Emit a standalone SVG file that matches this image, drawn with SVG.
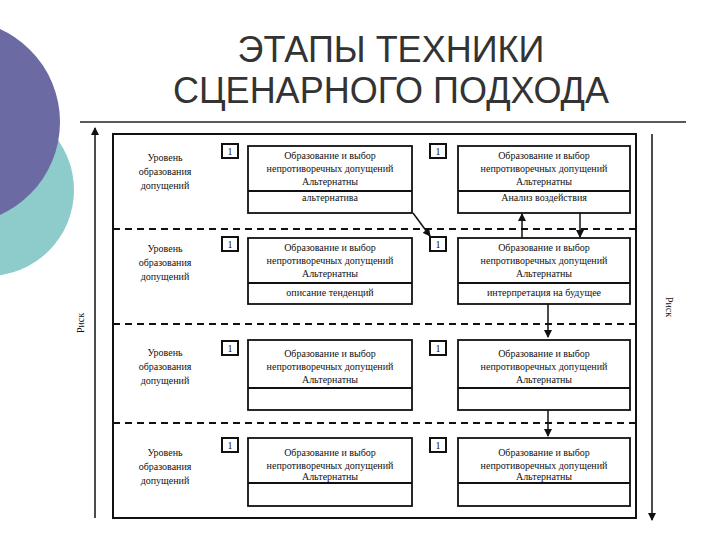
<svg xmlns="http://www.w3.org/2000/svg" width="720" height="540" viewBox="0 0 720 540">
<style>
.t{font-family:"Liberation Serif","DejaVu Serif","Times New Roman",serif;font-size:10px;text-anchor:middle;fill:#111}
.b{fill:#fff;stroke:#111;stroke-width:1.8}
.n{fill:#fff;stroke:#111;stroke-width:2}
.d{stroke:#111;stroke-width:1.8;stroke-dasharray:7,5}
.c{stroke:#111;stroke-width:1.5;fill:none}
.h{font-family:"Liberation Sans",sans-serif;font-size:36px;text-anchor:middle;fill:#333}
</style>
<defs><marker id="a" markerWidth="8" markerHeight="8" refX="7" refY="4" orient="auto" markerUnits="userSpaceOnUse"><path d="M0,0L8,4L0,8z" fill="#111"/></marker></defs>
<rect width="720" height="540" fill="#fff"/>
<circle cx="-12" cy="190" r="86" fill="#8ecbcb"/>
<circle cx="-42" cy="122" r="102" fill="#6b6aa2"/>
<text class="h" x="391" y="62">ЭТАПЫ ТЕХНИКИ</text>
<text class="h" x="391" y="103">СЦЕНАРНОГО ПОДХОДА</text>
<line x1="80" y1="122" x2="686" y2="122" stroke="#222" stroke-width="1.5"/>
<rect x="113" y="134" width="523" height="384" fill="none" stroke="#111" stroke-width="2"/>
<line class="d" x1="113" y1="229" x2="636" y2="229"/>
<line class="d" x1="113" y1="324" x2="636" y2="324"/>
<line class="d" x1="113" y1="423" x2="636" y2="423"/>
<g id="connectors">
<line class="c" x1="95" y1="518" x2="95" y2="128" marker-end="url(#a)"/>
<line class="c" x1="652" y1="134" x2="652" y2="520" marker-end="url(#a)"/>
<line class="c" x1="413" y1="213" x2="430" y2="236" marker-end="url(#a)"/>
<line class="c" x1="522" y1="238" x2="522" y2="214" marker-end="url(#a)"/>
<line class="c" x1="580" y1="213" x2="580" y2="237" marker-end="url(#a)"/>
<line class="c" x1="548" y1="304" x2="548" y2="337" marker-end="url(#a)"/>
<line class="c" x1="548" y1="410" x2="548" y2="436" marker-end="url(#a)"/>
</g>
<text class="t" transform="translate(84,323) rotate(-90)" x="0" y="0">Риск</text>
<text class="t" transform="translate(666,307) rotate(90)" x="0" y="0">Риск</text>
<g id="row1">
<text class="t" x="165" y="161">Уровень</text><text class="t" x="165" y="175">образования</text><text class="t" x="165" y="189">допущений</text>
<rect class="n" x="222" y="144" width="16" height="14"/><text class="t" x="230" y="155">1</text>
<rect class="b" x="248" y="146" width="164" height="67"/><line class="b" x1="248" y1="191" x2="412" y2="191"/>
<text class="t" x="330" y="159">Образование и выбор</text><text class="t" x="330" y="172">непротиворечных допущений</text><text class="t" x="330" y="185">Альтернатны</text><text class="t" x="330" y="201">альтернатива</text>
<rect class="n" x="430" y="144" width="16" height="14"/><text class="t" x="438" y="155">1</text>
<rect class="b" x="458" y="146" width="172" height="67"/><line class="b" x1="458" y1="191" x2="630" y2="191"/>
<text class="t" x="544" y="159">Образование и выбор</text><text class="t" x="544" y="172">непротиворечных допущений</text><text class="t" x="544" y="185">Альтернатны</text><text class="t" x="544" y="201">Анализ воздействия</text>
</g>
<g id="row2">
<text class="t" x="165" y="252">Уровень</text><text class="t" x="165" y="266">образования</text><text class="t" x="165" y="280">допущений</text>
<rect class="n" x="222" y="237" width="16" height="14"/><text class="t" x="230" y="248">1</text>
<rect class="b" x="248" y="238" width="164" height="66"/><line class="b" x1="248" y1="283" x2="412" y2="283"/>
<text class="t" x="330" y="251">Образование и выбор</text><text class="t" x="330" y="264">непротиворечных допущений</text><text class="t" x="330" y="277">Альтернатны</text><text class="t" x="330" y="296">описание тенденций</text>
<rect class="n" x="430" y="237" width="16" height="14"/><text class="t" x="438" y="248">1</text>
<rect class="b" x="458" y="238" width="172" height="66"/><line class="b" x1="458" y1="283" x2="630" y2="283"/>
<text class="t" x="544" y="251">Образование и выбор</text><text class="t" x="544" y="264">непротиворечных допущений</text><text class="t" x="544" y="277">Альтернатны</text><text class="t" x="544" y="296">интерпретация на будущее</text>
</g>
<g id="row3">
<text class="t" x="165" y="356">Уровень</text><text class="t" x="165" y="370">образования</text><text class="t" x="165" y="384">допущений</text>
<rect class="n" x="222" y="341" width="16" height="14"/><text class="t" x="230" y="352">1</text>
<rect class="b" x="248" y="340" width="164" height="70"/><line class="b" x1="248" y1="388" x2="412" y2="388"/>
<text class="t" x="330" y="357">Образование и выбор</text><text class="t" x="330" y="370">непротиворечных допущений</text><text class="t" x="330" y="383">Альтернатны</text>
<rect class="n" x="430" y="341" width="16" height="14"/><text class="t" x="438" y="352">1</text>
<rect class="b" x="458" y="340" width="172" height="70"/><line class="b" x1="458" y1="388" x2="630" y2="388"/>
<text class="t" x="544" y="357">Образование и выбор</text><text class="t" x="544" y="370">непротиворечных допущений</text><text class="t" x="544" y="383">Альтернатны</text>
</g>
<g id="row4">
<text class="t" x="165" y="456">Уровень</text><text class="t" x="165" y="470">образования</text><text class="t" x="165" y="484">допущений</text>
<rect class="n" x="222" y="438" width="16" height="14"/><text class="t" x="230" y="449">1</text>
<rect class="b" x="248" y="438" width="164" height="68"/><line class="b" x1="248" y1="483" x2="412" y2="483"/>
<text class="t" x="330" y="456">Образование и выбор</text><text class="t" x="330" y="469">непротиворечных допущений</text><text class="t" x="330" y="480">Альтернатны</text>
<rect class="n" x="430" y="438" width="16" height="14"/><text class="t" x="438" y="449">1</text>
<rect class="b" x="458" y="438" width="172" height="68"/><line class="b" x1="458" y1="483" x2="630" y2="483"/>
<text class="t" x="544" y="456">Образование и выбор</text><text class="t" x="544" y="469">непротиворечных допущений</text><text class="t" x="544" y="480">Альтернатны</text>
</g>
</svg>
